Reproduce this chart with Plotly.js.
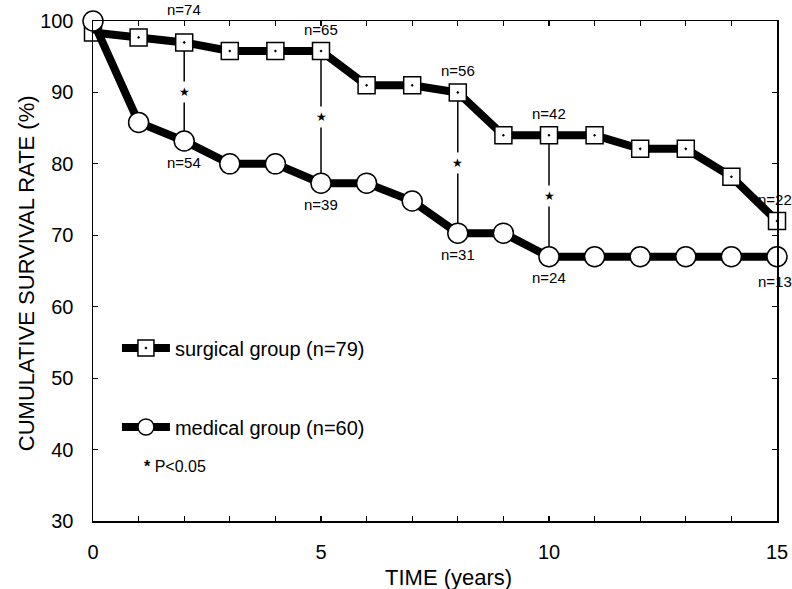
<!DOCTYPE html>
<html>
<head>
<meta charset="utf-8">
<script src="https://cdn.plot.ly/plotly-3.0.1.min.js"></script>
<style>html,body{margin:0;padding:0;background:#fff;}#chart{width:792px;height:589px;}</style>
</head>
<body>
<div id="chart"></div>
<script>
// ---- data ----
var years = [0,1,2,3,4,5,6,7,8,9,10,11,12,13,14,15];
var surgical = [98.4,97.7,97.0,95.8,95.8,95.8,91.0,91.0,90.0,84.0,84.0,84.0,82.1,82.1,78.2,72.0];
var medical  = [100,85.8,83.2,80.0,80.0,77.3,77.3,74.8,70.3,70.3,67.0,67.0,67.0,67.0,67.0,67.0];
var sigYears = [2,5,8,10];
var nYears = [2,5,8,10,15];
var nSurgical = ['n=74','n=65','n=56','n=42','n=22'];
var nMedical  = ['n=54','n=39','n=31','n=24','n=13'];
var surgicalName = 'surgical group (n=79)';
var medicalName = 'medical group (n=60)';
var xTickVals = years;
var xTickText = years.map(function(v){ return v % 5 === 0 ? String(v) : ''; });
var yTickVals = [30,40,50,60,70,80,90,100];

var FONT = 'Liberation Sans, Arial, Helvetica, sans-serif';

function valAt(arr, t){ return arr[years.indexOf(t)]; }

var traces = [];
// significance connectors
sigYears.forEach(function(t){
  traces.push({
    x:[t,t], y:[valAt(surgical,t), valAt(medical,t)],
    mode:'lines', line:{color:'#000', width:1.5},
    showlegend:false, hoverinfo:'skip', cliponaxis:false, legendgroup:'z'
  });
});
traces.push({
  x: years, y: surgical, name: surgicalName,
  mode:'lines+markers',
  line:{color:'#000', width:8},
  marker:{symbol:'square-dot', size:17, color:'#fff', line:{color:'#000', width:1.5}},
  cliponaxis:false, legendrank:1, legendgroup:'s'
});
traces.push({
  x: years, y: medical, name: medicalName,
  mode:'lines+markers',
  line:{color:'#000', width:8},
  marker:{symbol:'circle', size:20, color:'#fff', line:{color:'#000', width:1.5}},
  cliponaxis:false, legendrank:2, legendgroup:'m'
});

var annotations = [];
sigYears.forEach(function(t){
  annotations.push({
    x:t, y:(valAt(surgical,t)+valAt(medical,t))/2, xref:'x', yref:'y',
    text:'★', showarrow:false, font:{family:'DejaVu Sans, sans-serif', size:12, color:'#000'},
    bgcolor:'#fff', borderpad:3
  });
});
nYears.forEach(function(t,i){
  var last = (i === nYears.length-1);
  annotations.push({
    x:t, y:valAt(surgical,t), xref:'x', yref:'y', text:nSurgical[i],
    showarrow:false, yshift:(i===0?33:22), xshift:(last?-2:0),
    font:{family:FONT, size:15, color:'#000'}
  });
  annotations.push({
    x:t, y:valAt(medical,t), xref:'x', yref:'y', text:nMedical[i],
    showarrow:false, yshift:(last?-25:-21), xshift:(last?-2:0),
    font:{family:FONT, size:15, color:'#000'}
  });
});
annotations.push({
  xref:'paper', yref:'paper', x:0.072, y:0.11, xanchor:'left', yanchor:'middle',
  text:'<b>*</b> P<0.05', showarrow:false, font:{family:FONT, size:16, color:'#000'}
});
annotations.push({
  xref:'paper', yref:'paper', x:0.52, y:-0.112, xanchor:'center', yanchor:'middle',
  text:'TIME (years)', showarrow:false, font:{family:FONT, size:22, color:'#000'}
});
annotations.push({
  xref:'paper', yref:'paper', x:-0.097, y:0.495, xanchor:'center', yanchor:'middle',
  text:'CUMULATIVE SURVIVAL RATE (%)', textangle:-90, showarrow:false,
  font:{family:FONT, size:22, color:'#000'}
});

var layout = {
  width:792, height:589,
  margin:{l:93, r:15, t:21, b:68},
  paper_bgcolor:'#fff', plot_bgcolor:'#fff',
  font:{family:FONT, color:'#000'},
  showlegend:true,
  legend:{x:0.035, y:0.385, xanchor:'left', yanchor:'top', bgcolor:'rgba(0,0,0,0)',
          font:{family:FONT, size:20, color:'#000'}, itemwidth:48, tracegroupgap:50,
          traceorder:'grouped'},
  xaxis:{range:[0,15], showgrid:false, zeroline:false, showline:true, linecolor:'#000', linewidth:1.5,
         mirror:'ticks', ticks:'inside', ticklen:5, tickwidth:1.2, tickcolor:'#000',
         tickvals:xTickVals, ticktext:xTickText, ticklabelstandoff:12,
         tickfont:{family:FONT, size:20, color:'#000'}},
  yaxis:{range:[30,100], showgrid:false, zeroline:false, showline:true, linecolor:'#000', linewidth:1.5,
         mirror:'ticks', ticks:'inside', ticklen:5, tickwidth:1.2, tickcolor:'#000',
         tickvals:yTickVals, ticklabelstandoff:14,
         tickfont:{family:FONT, size:20, color:'#000'}},
  annotations:annotations
};

Plotly.newPlot('chart', traces, layout, {displayModeBar:false, staticPlot:true});
</script>
</body>
</html>
